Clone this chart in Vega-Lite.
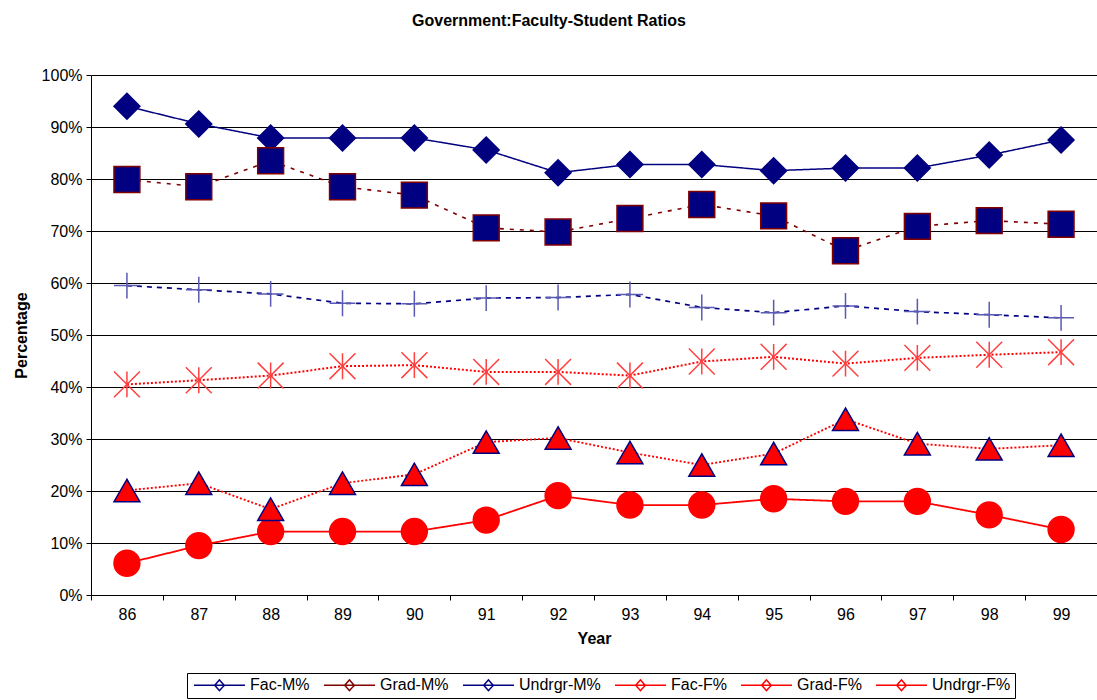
{
  "$schema": "https://vega.github.io/schema/vega-lite/v6.json",
  "autosize": {"type": "none"},
  "width": 1006,
  "height": 520,
  "padding": {"left": 91, "top": 75, "right": 0, "bottom": 105},
  "background": "white",
  "title": {"text": "Government:Faculty-Student Ratios", "fontSize": 16, "font": "Liberation Sans", "fontWeight": "bold", "anchor": "middle", "frame": "group", "dx": -45, "offset": 38, "color": "black"},
  "config": {"view": {"stroke": null}, "font": "Liberation Sans"},
  "data": {"values": [
    {"year": "86", "series": "Fac-M%", "value": 94.0},
    {"year": "87", "series": "Fac-M%", "value": 90.6},
    {"year": "88", "series": "Fac-M%", "value": 87.9},
    {"year": "89", "series": "Fac-M%", "value": 87.9},
    {"year": "90", "series": "Fac-M%", "value": 87.9},
    {"year": "91", "series": "Fac-M%", "value": 85.6},
    {"year": "92", "series": "Fac-M%", "value": 81.2},
    {"year": "93", "series": "Fac-M%", "value": 82.8},
    {"year": "94", "series": "Fac-M%", "value": 82.8},
    {"year": "95", "series": "Fac-M%", "value": 81.6},
    {"year": "96", "series": "Fac-M%", "value": 82.1},
    {"year": "97", "series": "Fac-M%", "value": 82.1},
    {"year": "98", "series": "Fac-M%", "value": 84.6},
    {"year": "99", "series": "Fac-M%", "value": 87.5},
    {"year": "86", "series": "Grad-M%", "value": 79.9},
    {"year": "87", "series": "Grad-M%", "value": 78.5},
    {"year": "88", "series": "Grad-M%", "value": 83.5},
    {"year": "89", "series": "Grad-M%", "value": 78.5},
    {"year": "90", "series": "Grad-M%", "value": 76.9},
    {"year": "91", "series": "Grad-M%", "value": 70.6},
    {"year": "92", "series": "Grad-M%", "value": 69.8},
    {"year": "93", "series": "Grad-M%", "value": 72.4},
    {"year": "94", "series": "Grad-M%", "value": 75.1},
    {"year": "95", "series": "Grad-M%", "value": 72.9},
    {"year": "96", "series": "Grad-M%", "value": 66.2},
    {"year": "97", "series": "Grad-M%", "value": 70.9},
    {"year": "98", "series": "Grad-M%", "value": 72.0},
    {"year": "99", "series": "Grad-M%", "value": 71.3},
    {"year": "86", "series": "Undrgr-M%", "value": 59.5},
    {"year": "87", "series": "Undrgr-M%", "value": 58.7},
    {"year": "88", "series": "Undrgr-M%", "value": 57.9},
    {"year": "89", "series": "Undrgr-M%", "value": 56.1},
    {"year": "90", "series": "Undrgr-M%", "value": 56.0},
    {"year": "91", "series": "Undrgr-M%", "value": 57.1},
    {"year": "92", "series": "Undrgr-M%", "value": 57.2},
    {"year": "93", "series": "Undrgr-M%", "value": 57.8},
    {"year": "94", "series": "Undrgr-M%", "value": 55.3},
    {"year": "95", "series": "Undrgr-M%", "value": 54.3},
    {"year": "96", "series": "Undrgr-M%", "value": 55.6},
    {"year": "97", "series": "Undrgr-M%", "value": 54.5},
    {"year": "98", "series": "Undrgr-M%", "value": 53.9},
    {"year": "99", "series": "Undrgr-M%", "value": 53.3},
    {"year": "86", "series": "Fac-F%", "value": 6.1},
    {"year": "87", "series": "Fac-F%", "value": 9.5},
    {"year": "88", "series": "Fac-F%", "value": 12.2},
    {"year": "89", "series": "Fac-F%", "value": 12.2},
    {"year": "90", "series": "Fac-F%", "value": 12.2},
    {"year": "91", "series": "Fac-F%", "value": 14.4},
    {"year": "92", "series": "Fac-F%", "value": 19.1},
    {"year": "93", "series": "Fac-F%", "value": 17.3},
    {"year": "94", "series": "Fac-F%", "value": 17.3},
    {"year": "95", "series": "Fac-F%", "value": 18.5},
    {"year": "96", "series": "Fac-F%", "value": 18.0},
    {"year": "97", "series": "Fac-F%", "value": 18.0},
    {"year": "98", "series": "Fac-F%", "value": 15.4},
    {"year": "99", "series": "Fac-F%", "value": 12.6},
    {"year": "86", "series": "Grad-F%", "value": 20.1},
    {"year": "87", "series": "Grad-F%", "value": 21.5},
    {"year": "88", "series": "Grad-F%", "value": 16.5},
    {"year": "89", "series": "Grad-F%", "value": 21.5},
    {"year": "90", "series": "Grad-F%", "value": 23.2},
    {"year": "91", "series": "Grad-F%", "value": 29.4},
    {"year": "92", "series": "Grad-F%", "value": 30.2},
    {"year": "93", "series": "Grad-F%", "value": 27.4},
    {"year": "94", "series": "Grad-F%", "value": 25.0},
    {"year": "95", "series": "Grad-F%", "value": 27.2},
    {"year": "96", "series": "Grad-F%", "value": 33.8},
    {"year": "97", "series": "Grad-F%", "value": 29.1},
    {"year": "98", "series": "Grad-F%", "value": 28.1},
    {"year": "99", "series": "Grad-F%", "value": 28.8},
    {"year": "86", "series": "Undrgr-F%", "value": 40.5},
    {"year": "87", "series": "Undrgr-F%", "value": 41.3},
    {"year": "88", "series": "Undrgr-F%", "value": 42.2},
    {"year": "89", "series": "Undrgr-F%", "value": 44.0},
    {"year": "90", "series": "Undrgr-F%", "value": 44.2},
    {"year": "91", "series": "Undrgr-F%", "value": 42.9},
    {"year": "92", "series": "Undrgr-F%", "value": 42.9},
    {"year": "93", "series": "Undrgr-F%", "value": 42.2},
    {"year": "94", "series": "Undrgr-F%", "value": 44.9},
    {"year": "95", "series": "Undrgr-F%", "value": 45.8},
    {"year": "96", "series": "Undrgr-F%", "value": 44.5},
    {"year": "97", "series": "Undrgr-F%", "value": 45.6},
    {"year": "98", "series": "Undrgr-F%", "value": 46.2},
    {"year": "99", "series": "Undrgr-F%", "value": 46.7}
  ]},
  "encoding": {
    "x": {"field": "year", "type": "ordinal", "bandPosition": 0.5,
      "scale": {"type": "band", "paddingInner": 0, "paddingOuter": 0},
      "axis": {"title": "Year", "tickBand": "extent", "labelAngle": 0, "labelFontSize": 16, "labelColor": "black", "labelPadding": 6, "tickSize": 5, "tickColor": "black", "domainColor": "black", "titleFontSize": 16, "titleFontWeight": "bold", "titleColor": "black", "titlePadding": 8, "grid": false}},
    "y": {"field": "value", "type": "quantitative",
      "scale": {"domain": [0, 100], "nice": false},
      "axis": {"title": "Percentage", "values": [0, 10, 20, 30, 40, 50, 60, 70, 80, 90, 100], "labelExpr": "datum.value + '%'", "grid": true, "gridColor": "black", "gridWidth": 1, "domainColor": "black", "tickColor": "black", "tickSize": 5, "labelFontSize": 16, "labelColor": "black", "labelPadding": 4, "titleFontSize": 16, "titleFontWeight": "bold", "titleColor": "black", "titlePadding": 12}}
  },
  "layer": [
    {
      "mark": {"type": "line", "strokeCap": "butt"},
      "encoding": {
        "color": {"field": "series", "type": "nominal",
          "scale": {"domain": ["Fac-M%", "Grad-M%", "Undrgr-M%", "Fac-F%", "Grad-F%", "Undrgr-F%"], "range": ["#000080", "#800000", "#000080", "#FF0000", "#FF0000", "#FF0000"]},
          "legend": {
            "title": null, "orient": "none", "legendX": 96, "legendY": 598, "direction": "horizontal",
            "strokeColor": "black", "fillColor": "white", "padding": 4,
            "symbolSize": 144, "symbolStrokeWidth": 1.5, "symbolOffset": 20.5, "labelOffset": 22.5, "columnPadding": 11,
            "labelFontSize": 16, "labelColor": "black", "labelFont": "Liberation Sans",
            "encode": {"symbols": {"update": {
              "shape": {"condition": [
                {"test": "datum.label == 'Fac-M%' || datum.value == 'Fac-M%'", "value": "M-4.25,0H-0.85M0.85,0H4.25M0,-0.95L0.85,0L0,0.95L-0.85,0Z"},
                {"test": "datum.label == 'Grad-M%' || datum.value == 'Grad-M%'", "value": "M-4.25,0H-1M1,0H4.25M-1,-0.95H1V0.95H-1Z"},
                {"test": "datum.label == 'Undrgr-M%' || datum.value == 'Undrgr-M%'", "value": "M-4.25,0H4.25M0,-0.85V0.85"},
                {"test": "datum.label == 'Fac-F%' || datum.value == 'Fac-F%'", "value": "M-4.25,0H-1M1,0H4.25M1,0L0.87,0.5L0.5,0.87L0,1L-0.5,0.87L-0.87,0.5L-1,0L-0.87,-0.5L-0.5,-0.87L0,-1L0.5,-0.87L0.87,-0.5Z"},
                {"test": "datum.label == 'Grad-F%' || datum.value == 'Grad-F%'", "value": "M-4.25,0H-1M1,0H4.25M0,-0.85L1,0.75L-1,0.75Z"},
                {"test": "datum.label == 'Undrgr-F%' || datum.value == 'Undrgr-F%'", "value": "M-4.25,0H4.25M-0.8,-0.9L0.8,0.9M-0.8,0.9L0.8,-0.9M0,-0.95V0.95"}
              ], "value": "M-4.25,0H4.25M0,-0.9L0.8,0L0,0.9L-0.8,0Z"},
              "size": {"value": 144},
              "fill": {"condition": [
                {"test": "datum.label == 'Fac-M%' || datum.label == 'Grad-M%' || datum.value == 'Fac-M%' || datum.value == 'Grad-M%'", "value": "#000080"},
                {"test": "datum.label == 'Fac-F%' || datum.label == 'Grad-F%' || datum.value == 'Fac-F%' || datum.value == 'Grad-F%'", "value": "#FF0000"}
              ], "value": "transparent"},
              "stroke": {"condition": [
                {"test": "datum.label == 'Grad-M%' || datum.value == 'Grad-M%'", "value": "#800000"},
                {"test": "datum.label == 'Fac-M%' || datum.label == 'Undrgr-M%' || datum.value == 'Fac-M%' || datum.value == 'Undrgr-M%'", "value": "#000080"}
              ], "value": "#FF0000"},
              "strokeDash": {"condition": [
                {"test": "datum.label == 'Grad-M%' || datum.value == 'Grad-M%'", "value": [3, 5]},
                {"test": "datum.label == 'Undrgr-M%' || datum.value == 'Undrgr-M%'", "value": [4, 5]},
                {"test": "datum.label == 'Grad-F%' || datum.label == 'Undrgr-F%' || datum.value == 'Grad-F%' || datum.value == 'Undrgr-F%'", "value": [2, 3]}
              ], "value": [1, 0]},
              "opacity": {"value": 1}
            }}}
          }},
        "strokeDash": {"field": "series", "type": "nominal",
          "scale": {"domain": ["Undrgr-F%", "Grad-F%", "Fac-F%", "Undrgr-M%", "Grad-M%", "Fac-M%"], "range": [[2, 2], [2, 2], [1, 0], [5, 5], [4, 6], [1, 0]]},
          "legend": null},
        "strokeWidth": {"field": "series", "type": "ordinal",
          "scale": {"domain": ["Undrgr-F%", "Grad-F%", "Fac-F%", "Undrgr-M%", "Grad-M%", "Fac-M%"], "range": [2, 1.5, 1, 2.5, 2.5, 2]},
          "legend": null}
      }
    },
    {
      "mark": {"type": "point", "filled": false, "strokeWidth": 1.5, "opacity": 1, "size": 670},
      "encoding": {
        "shape": {"field": "series", "type": "nominal",
          "scale": {"domain": ["Undrgr-F%", "Grad-F%", "Fac-F%", "Undrgr-M%", "Grad-M%", "Fac-M%"], "range": ["M-1,-1L1,1M-1,1L1,-1M0,-1V1", "triangle-up", "circle", "M-1,0H1M0,-1V1", "square", "diamond"]},
          "legend": null},
        "fill": {"field": "series", "type": "nominal",
          "scale": {"domain": ["Undrgr-F%", "Grad-F%", "Fac-F%", "Undrgr-M%", "Grad-M%", "Fac-M%"], "range": ["transparent", "#FF0000", "#FF0000", "transparent", "#000080", "#000080"]},
          "legend": null},
        "stroke": {"field": "series", "type": "nominal",
          "scale": {"domain": ["Undrgr-F%", "Grad-F%", "Fac-F%", "Undrgr-M%", "Grad-M%", "Fac-M%"], "range": ["#FF4040", "#000080", "#FF0000", "#5a5ab4", "#800000", "#000080"]},
          "legend": null}
      }
    }
  ]
}
